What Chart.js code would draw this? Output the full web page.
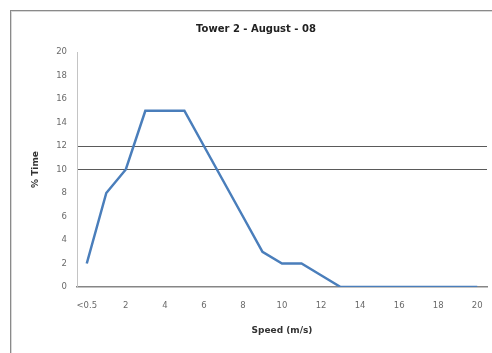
<!DOCTYPE html>
<html>
<head>
<meta charset="utf-8">
<script src="https://cdn.jsdelivr.net/npm/chart.js@4/dist/chart.umd.min.js"></script>
<style>
  html, body { margin: 0; padding: 0; background: #fff; overflow: hidden; width: 492px; height: 353px; }
  #frame { position: absolute; left: 10px; top: 10px; width: 500px; height: 360px;
           border: 1px solid #8a8a8a; box-shadow: inset 1px 1px 0 #d8d8d8; background: #fff; }
  #c { position: absolute; left: 11px; top: 11px; }
</style>
</head>
<body>
<div id="frame"></div>
<canvas id="c" width="490" height="342"></canvas>
<script>
// Wind speed bins (m/s) and share of time in each bin (%)
const speedBins = ['<0.5','1','2','3','4','5','6','7','8','9','10','11','12','13','14','15','16','17','18','19','20'];
const timePct   = [2, 8, 10, 15, 15, 15, 12, 9, 6, 3, 2, 2, 1, 0, 0, 0, 0, 0, 0, 0, 0];
// Reference levels marked across the plot
const refLevels = [10, 12];
const yTicks = { min: 0, max: 20, step: 2 };

const font = "'DejaVu Sans', Verdana, sans-serif";

new Chart(document.getElementById('c'), {
  type: 'line',
  data: {
    labels: speedBins,
    datasets: [{
      data: timePct,
      borderColor: '#4a7ebb',
      borderWidth: 2.5,
      pointRadius: 0,
      tension: 0,
      fill: false
    }]
  },
  options: {
    responsive: false,
    animation: false,
    devicePixelRatio: 1,
    layout: { padding: { left: 14, right: 14, top: 0, bottom: 0 } },
    plugins: {
      legend: { display: false },
      tooltip: { enabled: false },
      title: {
        display: true,
        text: 'Tower 2 - August - 08',
        color: '#222',
        font: { family: font, size: 10, weight: 'bold' },
        padding: { top: 12, bottom: 17 }
      }
    },
    scales: {
      x: {
        type: 'category',
        offset: true,
        grid: { display: false, drawTicks: false },
        border: { display: true, color: '#868686', width: 1.5 },
        ticks: {
          autoSkip: false,
          maxRotation: 0,
          padding: 14,
          color: '#6a6a6a',
          font: { family: font, size: 8.5 },
          callback: (v, i) => (i % 2 === 0 ? speedBins[i] : '')
        },
        title: {
          display: true,
          text: 'Speed (m/s)',
          color: '#333',
          font: { family: font, size: 9, weight: 'bold' },
          padding: { top: 0, bottom: 17 }
        },
        afterFit: s => { s.height = 66; }
      },
      y: {
        min: yTicks.min,
        max: yTicks.max,
        ticks: {
          stepSize: yTicks.step,
          padding: 10,
          color: '#6a6a6a',
          font: { family: font, size: 8.5 }
        },
        grid: {
          drawTicks: false,
          lineWidth: 1,
          color: ctx => (ctx.tick && refLevels.includes(ctx.tick.value) ? '#5a5a5a' : 'rgba(0,0,0,0)')
        },
        border: { display: true, color: '#c4c4c4', width: 1 },
        title: {
          display: true,
          text: '% Time',
          color: '#333',
          font: { family: font, size: 9, weight: 'bold' },
          padding: { top: 5, bottom: 0 }
        },
        afterFit: s => { s.width = 52; }
      }
    }
  }
});
</script>
</body>
</html>
